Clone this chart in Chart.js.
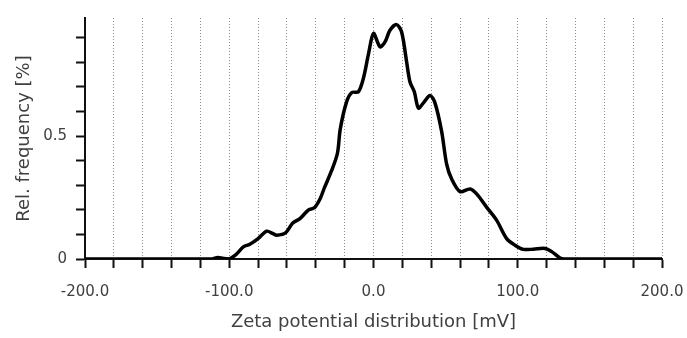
<!DOCTYPE html>
<html>
<head>
<meta charset="utf-8">
<script src="https://cdn.jsdelivr.net/npm/chart.js@4"></script>
<style>
  html, body { margin: 0; padding: 0; background: #fff; }
  #wrap { width: 687px; height: 338px; }
</style>
</head>
<body>
<div id="wrap"><canvas id="zetaChart" width="687" height="338"></canvas></div>
<script>
// Zeta potential distribution
const zetaMv = [-200, -112, -108, -104, -100, -95, -90, -86, -80, -74, -70, -67, -61, -56, -51, -45, -41, -37, -34,
  -29, -25, -23, -18.6, -15, -10.5, -7, -3.6, 0, 4.5, 8, 11.4, 16, 19.5, 23, 25.3, 28.3, 31.1, 34.5, 39.2, 42.6,
  47.2, 50.7, 54.2, 60, 66.9, 71.5, 78.5, 85.4, 92.3, 98.1, 103.9, 110.8, 118.9, 123.5, 129.3, 132, 200];
const relFreq = [0, 0, 0.006, 0.002, 0, 0.02, 0.05, 0.059, 0.083, 0.113, 0.104, 0.097, 0.106, 0.146, 0.164, 0.2, 0.208, 0.245, 0.29,
  0.36, 0.43, 0.53, 0.64, 0.677, 0.68, 0.735, 0.83, 0.917, 0.863, 0.883, 0.93, 0.953, 0.923, 0.8, 0.72, 0.68, 0.614, 0.634, 0.665, 0.635,
  0.52, 0.386, 0.325, 0.274, 0.285, 0.265, 0.21, 0.157, 0.083, 0.056, 0.039, 0.04, 0.043, 0.03, 0.004, 0, 0];
const xLabelTicks = [-200, -100, 0, 100, 200];
const yLabelTicks = [0, 0.5];

const textColor = '#404040';
const fontFamily = '"DejaVu Sans", "Open Sans", sans-serif';

const ctx = document.getElementById('zetaChart').getContext('2d');
new Chart(ctx, {
  type: 'line',
  data: {
    datasets: [{
      data: zetaMv.map((x, i) => ({ x: x, y: relFreq[i] })),
      borderColor: '#000',
      borderWidth: 3.5,
      pointRadius: 0,
      tension: 0.3,
      fill: false
    }]
  },
  options: {
    responsive: false,
    animation: false,
    layout: { padding: { left: 0, right: 25, top: 15, bottom: 0 } },
    plugins: { legend: { display: false }, tooltip: { enabled: false } },
    scales: {
      x: {
        type: 'linear',
        min: -200,
        max: 200,
        // fixed axis band; end labels may hang over the edges like in the original
        afterFit: s => { s.height = 79; s.paddingLeft = 0; s.paddingRight = 0; },
        ticks: {
          stepSize: 20,
          autoSkip: false,
          maxRotation: 0,
          padding: 15,
          color: textColor,
          font: { family: fontFamily, size: 15 },
          callback: v => xLabelTicks.includes(Math.round(v)) ? v.toFixed(1) : ''
        },
        grid: {
          color: '#8a8a8a',
          lineWidth: 1,
          tickColor: '#111',
          tickLength: 9,
          tickWidth: 2,
          tickBorderDash: []
        },
        border: { display: true, color: '#111', width: 2, dash: [1, 2] },
        title: {
          display: true,
          text: 'Zeta potential distribution [mV]',
          color: textColor,
          font: { family: fontFamily, size: 18 },
          padding: { top: 0, bottom: 5 }
        }
      },
      y: {
        min: 0,
        max: 0.98,
        afterFit: s => { s.width = 85; },
        ticks: {
          stepSize: 0.1,
          includeBounds: false,
          autoSkip: false,
          padding: 9,
          color: textColor,
          font: { family: fontFamily, size: 15 },
          callback: v => yLabelTicks.some(t => Math.abs(t - v) < 1e-6) ? String(Math.round(v * 10) / 10) : ''
        },
        grid: {
          drawOnChartArea: false,
          tickColor: '#111',
          tickLength: 9,
          tickWidth: 2
        },
        border: { display: true, color: '#111', width: 2 },
        title: {
          display: true,
          text: 'Rel. frequency [%]',
          color: textColor,
          font: { family: fontFamily, size: 18 },
          padding: { top: 14, bottom: 0 }
        }
      }
    }
  }
});
</script>
</body>
</html>
